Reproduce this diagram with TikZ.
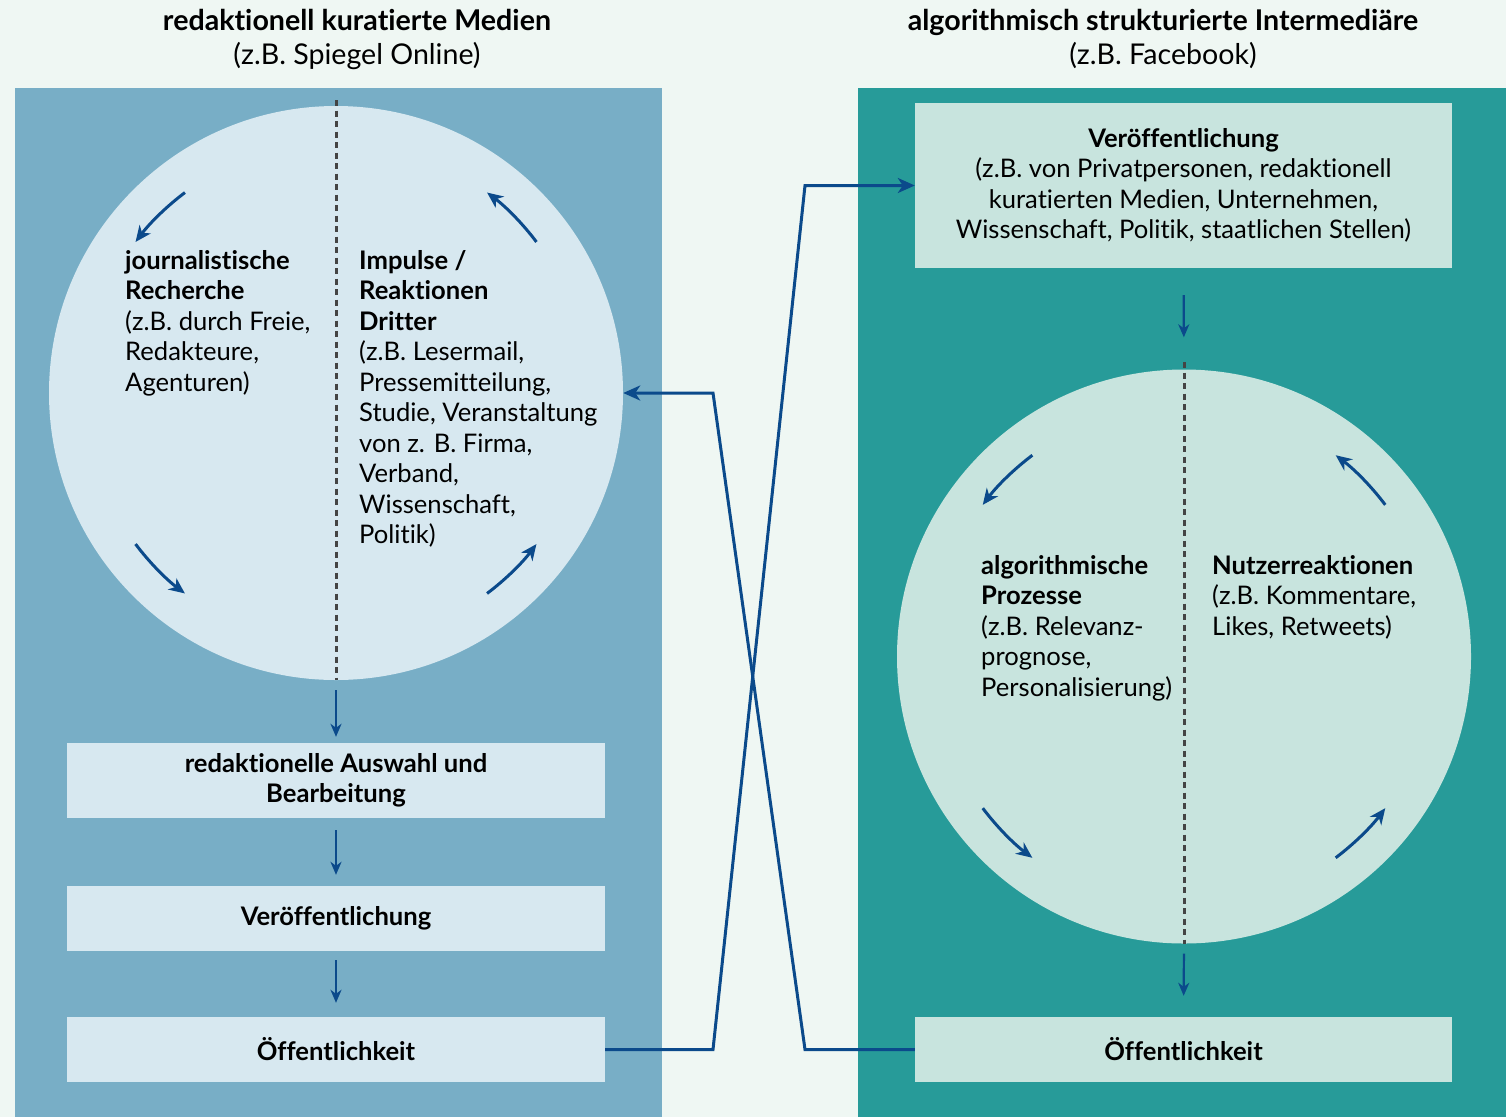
\documentclass[tikz,border=0pt]{standalone}
\usepackage{fontspec}
\setmainfont{Lato}[Ligatures={NoCommon,NoContextual}]
\usetikzlibrary{arrows.meta}
\definecolor{bgc}{HTML}{EFF7F3}
\definecolor{lpanel}{HTML}{78AEC6}
\definecolor{llight}{HTML}{D7E8F0}
\definecolor{rpanel}{HTML}{279B99}
\definecolor{rlight}{HTML}{C8E4DE}
\definecolor{ablue}{HTML}{0B4A8B}
\definecolor{dgrey}{HTML}{444444}
\newcommand\bodyfnt{\fontsize{25.6pt}{30.5pt}\selectfont}
\newcommand\titlefnt{\fontsize{28.6pt}{34pt}\selectfont}
\tikzset{
  txt/.style={inner sep=0pt, font=\bodyfnt, align=left, anchor=north west, text=black},
  ttl/.style={inner sep=0pt, font=\titlefnt, align=center, anchor=north, text=black},
  lbox/.style={fill=llight, draw=none, minimum width=538pt, font=\bodyfnt, align=center, inner sep=0pt},
  rbox/.style={fill=rlight, draw=none, minimum width=537pt, font=\bodyfnt, align=center, inner sep=0pt},
  conn/.style={draw=ablue, line width=3pt, -{Stealth[length=17pt,width=15pt,inset=5pt]}},
  flow/.style={draw=ablue, line width=2.2pt, -{Stealth[length=13pt,width=11pt,inset=4pt]}},
  cyc/.style={draw=ablue, line width=3pt, -{Stealth[length=16pt,width=14pt,inset=5pt]}},
  divider/.style={draw=dgrey, line width=3pt, dash pattern=on 6pt off 4.5pt},
}
\begin{document}
\begin{tikzpicture}[x=1pt,y=-1pt]
\fill[bgc] (0,0) rectangle (1506,1117);
\useasboundingbox (0,0) rectangle (1506,1117);
% panels
\fill[lpanel] (15,88) rectangle (662,1117);
\fill[rpanel] (858,88) rectangle (1506,1117);
% titles
\node[ttl] (tl) at (357,9) {\textbf{redaktionell kuratierte Medien}\\(z.B. Spiegel Online)};
\node[ttl] (tr) at (1163,9) {\textbf{algorithmisch strukturierte Intermediäre}\\(z.B. Facebook)};
% left circle
\node[circle, fill=llight, minimum size=574pt, inner sep=0pt] (cL) at (336,393) {};
\coordinate (dLtop) at (336,100);
\draw[divider] (dLtop) -- (cL.south);
\node[txt] (jr) at (125,250) {\textbf{journalistische}\\\textbf{Recherche}\\(z.B. durch Freie,\\Redakteure,\\Agenturen)};
\node[txt] (ir) at (359,250) {\textbf{Impulse /}\\\textbf{Reaktionen}\\\textbf{Dritter}\\(z.B. Lesermail,\\Pressemitteilung,\\Studie, Veranstaltung\\von z. B. Firma,\\Verband,\\Wissenschaft,\\Politik)};
\draw[cyc] ([shift={(127:251pt)}]cL.center) arc[start angle=127, end angle=143, radius=251pt];
\draw[cyc] ([shift={(217:251pt)}]cL.center) arc[start angle=217, end angle=233, radius=251pt];
\draw[cyc] ([shift={(307:251pt)}]cL.center) arc[start angle=307, end angle=323, radius=251pt];
\draw[cyc] ([shift={(37:251pt)}]cL.center) arc[start angle=37, end angle=53, radius=251pt];
% left boxes
\node[lbox, minimum height=75pt] (aw) at (336,780.5) {\textbf{redaktionelle Auswahl und}\\\textbf{Bearbeitung}};
\node[lbox, minimum height=65pt] (vL) at (336,918.5) {\textbf{Veröffentlichung}};
\node[lbox, minimum height=65pt] (oL) at (336,1049.5) {\textbf{Öffentlichkeit}};
\draw[flow, shorten <=10pt, shorten >=6pt] (cL.south) -- (aw.north);
\draw[flow, shorten <=12pt, shorten >=11pt] (aw.south) -- (vL.north);
\draw[flow, shorten <=9pt, shorten >=14pt] (vL.south) -- (oL.north);
% right top box
\node[rbox, minimum height=165pt] (vR) at (1183.5,185.5) {\textbf{Veröffentlichung}\\(z.B. von Privatpersonen, redaktionell\\kuratierten Medien, Unternehmen,\\Wissenschaft, Politik, staatlichen Stellen)};
% right circle
\node[circle, fill=rlight, minimum size=574pt, inner sep=0pt] (cR) at (1184,656.5) {};
\coordinate (dRtop) at (1184,362);
\draw[divider] (dRtop) -- (cR.south);
\node[txt] (ap) at (981,555) {\textbf{algorithmische}\\\textbf{Prozesse}\\(z.B. Relevanz-\\prognose,\\Personalisierung)};
\node[txt] (nr) at (1212,555) {\textbf{Nutzerreaktionen}\\(z.B. Kommentare,\\Likes, Retweets)};
\draw[cyc] ([shift={(127:252pt)}]cR.center) arc[start angle=127, end angle=143, radius=252pt];
\draw[cyc] ([shift={(217:252pt)}]cR.center) arc[start angle=217, end angle=233, radius=252pt];
\draw[cyc] ([shift={(307:252pt)}]cR.center) arc[start angle=307, end angle=323, radius=252pt];
\draw[cyc] ([shift={(37:252pt)}]cR.center) arc[start angle=37, end angle=53, radius=252pt];
\node[rbox, minimum height=65pt] (oR) at (1183.5,1049.5) {\textbf{Öffentlichkeit}};
\draw[flow, shorten <=27pt, shorten >=32pt] (vR.south) -- (cR.north);
\draw[flow, shorten <=10pt, shorten >=21pt] (cR.south) -- (oR.north);
% crossing connectors
\coordinate (b1) at (713,1049.5);
\coordinate (b2) at (805,185.5);
\coordinate (b3) at (805,1049.5);
\coordinate (b4) at (713,393);
\draw[conn] (oL.east) -- (b1) -- (b2) -- (vR.west);
\draw[conn] (oR.west) -- (b3) -- (b4) -- (cL.east);
\end{tikzpicture}
\end{document}
